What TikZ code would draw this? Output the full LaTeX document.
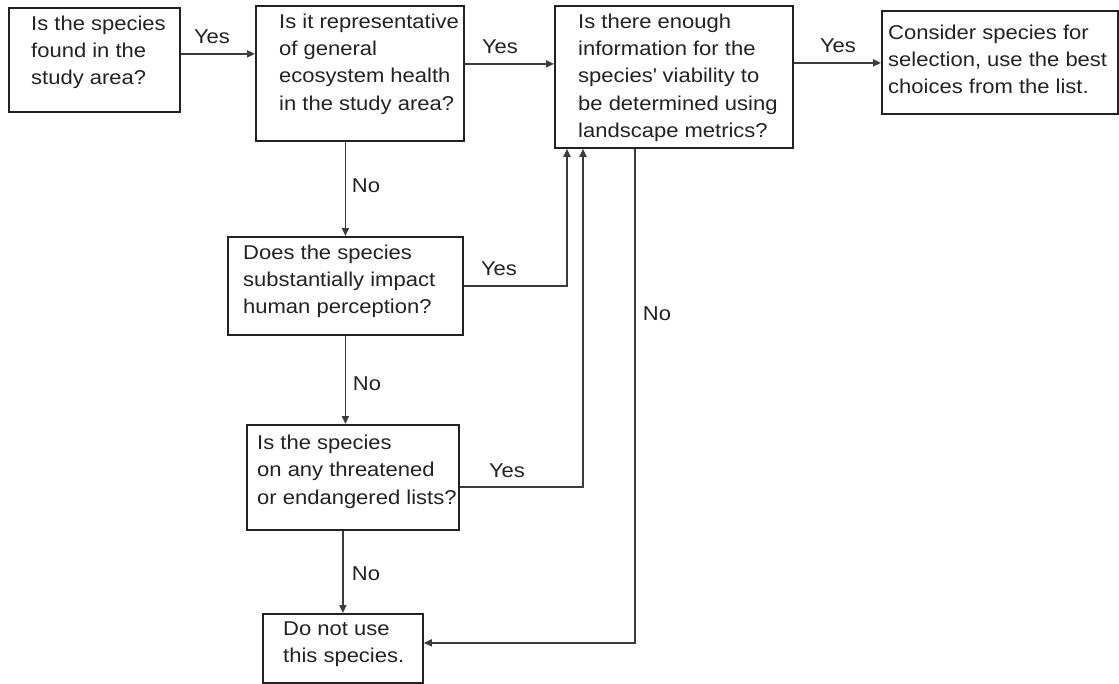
\documentclass[tikz,border=0pt]{standalone}
\usepackage{fontspec}
\setmainfont{Liberation Sans}[FakeStretch=1.1]
\usetikzlibrary{arrows.meta}
\definecolor{ink}{HTML}{222222}
\definecolor{wire}{HTML}{3C3C3C}
\tikzset{
  box/.style={draw=ink, line width=1.8pt, anchor=north west, inner sep=0pt},
  txt/.style={anchor=north west, inner sep=0pt, align=left, text=ink,
    font=\fontsize{20}{27.3}\selectfont},
  lbl/.style={anchor=base, inner sep=0pt, text=ink, font=\fontsize{20}{24}\selectfont},
  arr/.style={draw=wire, line width=1.7pt, -{Triangle[length=8pt,width=7pt]}},
}
\begin{document}
\begin{tikzpicture}[x=1pt,y=-1pt]
\useasboundingbox (0,0) rectangle (1119,683);
% boxes
\node[box, minimum width=171pt, minimum height=104pt] (b1) at (8,7) {};
\node[box, minimum width=208pt, minimum height=135pt] (b2) at (255,5) {};
\node[box, minimum width=238pt, minimum height=142pt] (b3) at (554,5) {};
\node[box, minimum width=236pt, minimum height=103pt] (b4) at (881,10) {};
\node[box, minimum width=235pt, minimum height=98pt] (b5) at (227,236) {};
\node[box, minimum width=212pt, minimum height=105pt] (b6) at (246,424) {};
\node[box, minimum width=160pt, minimum height=69pt] (b7) at (262,613) {};
% texts
\node[txt] (t1) at (31,15.7) {Is the species\\found in the\\study area?};
\node[txt] (t2) at (279,13.7) {Is it representative\\of general\\ecosystem health\\in the study area?};
\node[txt] (t3) at (578,13.7) {Is there enough\\information for the\\species\textquotesingle{} viability to\\be determined using\\landscape metrics?};
\node[txt] (t4) at (888,24.7) {Consider species for\\selection, use the best\\choices from the list.};
\node[txt] (t5) at (243,244.7) {Does the species\\substantially impact\\human perception?};
\node[txt] (t6) at (257,434.7) {Is the species\\on any threatened\\or endangered lists?};
\node[txt] (t7) at (283,621.7) {Do not use\\this species.};
% connectors
\draw[arr] ([yshift=6pt]b1.east) -- ([yshift=6pt]b1.east -| b2.west);
\draw[arr] ([yshift=9.5pt]b2.east) -- ([yshift=9.5pt]b2.east -| b3.west);
\draw[arr] ([yshift=14pt]b3.east) -- ([yshift=14pt]b3.east -| b4.west);
\draw[arr] (b2.south -| b5.north) -- (b5.north);
\draw[arr] (b5.south) -- (b5.south |- b6.north);
\draw[arr] (b7.north |- b6.south) -- (b7.north);
\draw[arr] (b5.east) -| ([xshift=13pt]b3.south west);
\draw[arr] ([yshift=-9.5pt]b6.east) -| ([xshift=29pt]b3.south west);
\draw[arr] ([xshift=81pt]b3.south west) |- ([yshift=5.5pt]b7.east);
% labels
\node[lbl] (y1) at (212,43) {Yes};
\node[lbl] (y2) at (500,53) {Yes};
\node[lbl] (y3) at (838,52) {Yes};
\node[lbl] (y4) at (499,275) {Yes};
\node[lbl] (y5) at (507,477) {Yes};
\node[lbl] (n1) at (366,192) {No};
\node[lbl] (n2) at (367,390) {No};
\node[lbl] (n3) at (366,580) {No};
\node[lbl] (n4) at (657,320) {No};
\end{tikzpicture}
\end{document}
